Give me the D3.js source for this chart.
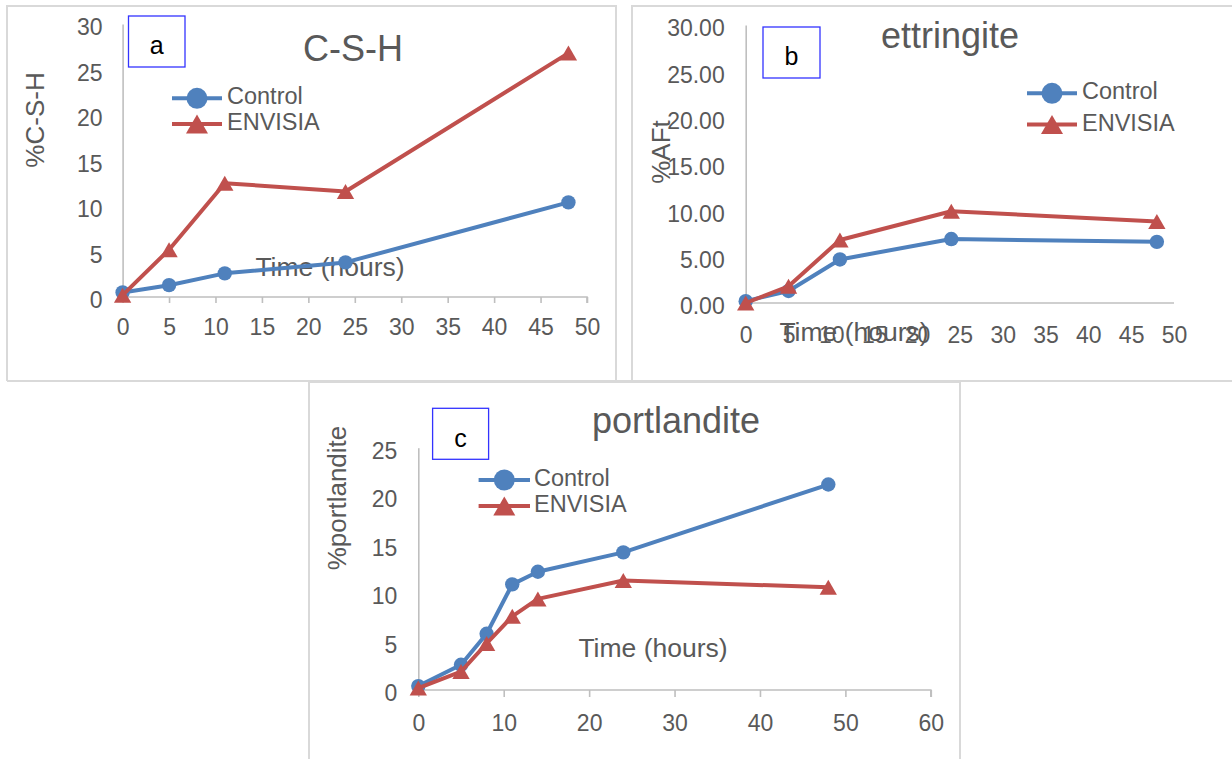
<!DOCTYPE html>
<html>
<head>
<meta charset="utf-8">
<script src="https://cdn.jsdelivr.net/npm/d3@7"></script>
<style>
  html, body { margin: 0; padding: 0; background: #fff; }
  svg { display: block; }
  text { font-family: "Liberation Sans", Arial, sans-serif; fill: #595959; }
</style>
</head>
<body>
<svg id="chart" width="1232" height="759"></svg>
<script>
// ---------- DATA ----------
const seriesNames = ["Control", "ENVISIA"];

// Panel a: C-S-H
const timeA = [0, 5, 11, 24, 48];
const controlA = [0.5, 1.3, 2.6, 3.8, 10.4];
const envisiaA = [0.2, 5.2, 12.5, 11.6, 26.8];
const xTicksA = [0, 5, 10, 15, 20, 25, 30, 35, 40, 45, 50];
const yTicksA = [0, 5, 10, 15, 20, 25, 30];

// Panel b: ettringite
const timeB = [0, 5, 11, 24, 48];
const controlB = [0.2, 1.3, 4.7, 6.9, 6.6];
const envisiaB = [0.0, 1.8, 6.8, 9.9, 8.8];
const xTicksB = [0, 5, 10, 15, 20, 25, 30, 35, 40, 45, 50];
const yTicksB = [0, 5, 10, 15, 20, 25, 30];

// Panel c: portlandite
const timeC = [0, 5, 8, 11, 14, 24, 48];
const controlC = [0.4, 2.6, 5.8, 10.9, 12.2, 14.2, 21.2];
const envisiaC = [0.2, 1.9, 4.8, 7.6, 9.4, 11.3, 10.6];
const xTicksC = [0, 10, 20, 30, 40, 50, 60];
const yTicksC = [0, 5, 10, 15, 20, 25];

// ---------- STYLE ----------
const BLUE = "#4f81bd", RED = "#c0504d";
const AXIS = "#bfbfbf", FRAME = "#d9d9d9", BOXC = "#3333ff";

const svg = d3.select("#chart");

// Frames
const frame = svg.append("g").attr("stroke", FRAME).attr("stroke-width", 2).attr("fill", "none");
frame.append("path").attr("d", "M7,381 L7,6 L616,6 L616,381");
frame.append("path").attr("d", "M632,381 L632,6 L1232,6");
frame.append("path").attr("d", "M7,381 L1232,381");
frame.append("path").attr("d", "M309,759 L309,382 L960,382 L960,759");

function triOffset(size) {
  const s = Math.sqrt(4 * size / Math.sqrt(3));
  return (s * Math.sqrt(3) / 2) / 6;
}

function drawPanel(p) {
  const g = svg.append("g");
  const x = d3.scaleLinear().domain(p.xDomain).range(p.xRange);
  const y = d3.scaleLinear().domain(p.yDomain).range(p.yRange);

  const xAxis = d3.axisBottom(x).tickValues(p.xTicks).tickSize(p.xTickLen).tickPadding(p.xPad).tickFormat(d3.format("d"));
  const gx = g.append("g").attr("transform", `translate(0,${y(0)})`).call(xAxis);
  gx.select(".domain").attr("stroke", AXIS).attr("stroke-width", 1.6)
    .attr("d", `M${p.xRange[0]},0H${p.xRange[1]}` + (p.xTickLen > 0 ? `V${p.xTickLen}` : ""));
  gx.selectAll(".tick line").attr("stroke", AXIS).attr("stroke-width", 1.6);
  gx.selectAll(".tick text").attr("font-size", 23).attr("fill", "#595959");

  const yAxis = d3.axisLeft(y).tickValues(p.yTicks).tickSize(0).tickPadding(p.yPad).tickFormat(d3.format(p.yFmt));
  const gy = g.append("g").attr("transform", `translate(${x(0)},0)`).call(yAxis);
  gy.select(".domain").attr("stroke", AXIS).attr("stroke-width", 1.6);
  gy.selectAll(".tick text").attr("font-size", 23).attr("fill", "#595959").attr("dy", "0.47em");
  gx.attr("font-family", null); gy.attr("font-family", null);

  // title
  g.append("text").attr("x", p.title.x).attr("y", p.title.y).attr("text-anchor", "middle")
    .attr("font-size", 36).text(p.title.text);

  // axis titles
  g.append("text").attr("transform", `translate(${p.yTitle.x},${p.yTitle.y}) rotate(-90)`)
    .attr("text-anchor", "middle").attr("dy", "0.36em").attr("font-size", 26).text(p.yTitle.text);
  g.append("text").attr("x", p.xTitle.x).attr("y", p.xTitle.y).attr("text-anchor", "middle")
    .attr("font-size", 26.5).text("Time (hours)");

  // series
  const line = d3.line().x(d => x(d[0])).y(d => y(d[1]));
  const series = [
    { name: seriesNames[0], color: BLUE, shape: "circle", pts: p.time.map((t, i) => [t, p.control[i]]) },
    { name: seriesNames[1], color: RED, shape: "triangle", pts: p.time.map((t, i) => [t, p.envisia[i]]) }
  ];
  const smallSize = 130, bigSize = 210;
  const triSmall = d3.symbol().type(d3.symbolTriangle).size(smallSize);
  const triBig = d3.symbol().type(d3.symbolTriangle).size(bigSize);
  series.forEach(s => {
    g.append("path").attr("d", line(s.pts)).attr("fill", "none").attr("stroke", s.color)
      .attr("stroke-width", 4).attr("stroke-linejoin", "round");
    s.pts.forEach(d => {
      if (s.shape === "circle") {
        g.append("circle").attr("cx", x(d[0])).attr("cy", y(d[1])).attr("r", 7.2).attr("fill", s.color);
      } else {
        g.append("path").attr("d", triSmall())
          .attr("transform", `translate(${x(d[0])},${y(d[1]) + triOffset(smallSize)})`).attr("fill", s.color);
      }
    });
  });

  // legend
  series.forEach((s, i) => {
    const ly = p.legend.y[i];
    g.append("line").attr("x1", p.legend.x0).attr("x2", p.legend.x1).attr("y1", ly).attr("y2", ly)
      .attr("stroke", s.color).attr("stroke-width", 4);
    const cx = (p.legend.x0 + p.legend.x1) / 2;
    if (s.shape === "circle") {
      g.append("circle").attr("cx", cx).attr("cy", ly).attr("r", 10.5).attr("fill", s.color);
    } else {
      g.append("path").attr("d", triBig()).attr("transform", `translate(${cx},${ly + triOffset(bigSize)})`).attr("fill", s.color);
    }
    g.append("text").attr("x", p.legend.tx).attr("y", ly + 6).attr("font-size", 23.5).text(s.name);
  });

  // label box
  g.append("rect").attr("x", p.box.x).attr("y", p.box.y).attr("width", p.box.w).attr("height", p.box.h)
    .attr("fill", "#fff").attr("stroke", BOXC).attr("stroke-width", 1.3);
  g.append("text").attr("x", p.box.x + p.box.w / 2).attr("y", p.box.ty).attr("text-anchor", "middle")
    .attr("font-family", "Open Sans, Noto Sans, sans-serif").attr("font-size", 25).style("fill", "#000")
    .text(p.box.label);
}

drawPanel({
  time: timeA, control: controlA, envisia: envisiaA,
  xDomain: [0, 50], xRange: [122.6, 587], yDomain: [0, 30], yRange: [297, 24],
  xTicks: xTicksA, yTicks: yTicksA, xTickLen: 6, xPad: 16, yPad: 20, yFmt: "d",
  title: { text: "C-S-H", x: 353, y: 61 },
  yTitle: { text: "%C-S-H", x: 35, y: 120 },
  xTitle: { x: 330, y: 276 },
  legend: { x0: 172, x1: 222, y: [98.3, 124], tx: 227 },
  box: { x: 128.5, y: 16, w: 56.5, h: 51, ty: 54, label: "a" }
});

drawPanel({
  time: timeB, control: controlB, envisia: envisiaB,
  xDomain: [0, 50], xRange: [745.7, 1174], yDomain: [0, 30], yRange: [303, 25],
  xTicks: xTicksB, yTicks: yTicksB, xTickLen: 0, xPad: 24, yPad: 21, yFmt: ".2f",
  title: { text: "ettringite", x: 950, y: 48 },
  yTitle: { text: "%AFt", x: 661, y: 152 },
  xTitle: { x: 854, y: 341 },
  legend: { x0: 1027, x1: 1077, y: [93.3, 124.5], tx: 1082 },
  box: { x: 763, y: 27, w: 57, h: 51, ty: 65, label: "b" }
});

drawPanel({
  time: timeC, control: controlC, envisia: envisiaC,
  xDomain: [0, 60], xRange: [418.3, 930.8], yDomain: [0, 25], yRange: [690, 447.7],
  xTicks: xTicksC, yTicks: yTicksC, xTickLen: 7, xPad: 18, yPad: 21, yFmt: "d",
  title: { text: "portlandite", x: 676, y: 433 },
  yTitle: { text: "%portlandite", x: 337, y: 498 },
  xTitle: { x: 653, y: 657 },
  legend: { x0: 478.6, x1: 530, y: [480, 506], tx: 534 },
  box: { x: 432.6, y: 408.3, w: 56, h: 51, ty: 447, label: "c" }
});
</script>
</body>
</html>
